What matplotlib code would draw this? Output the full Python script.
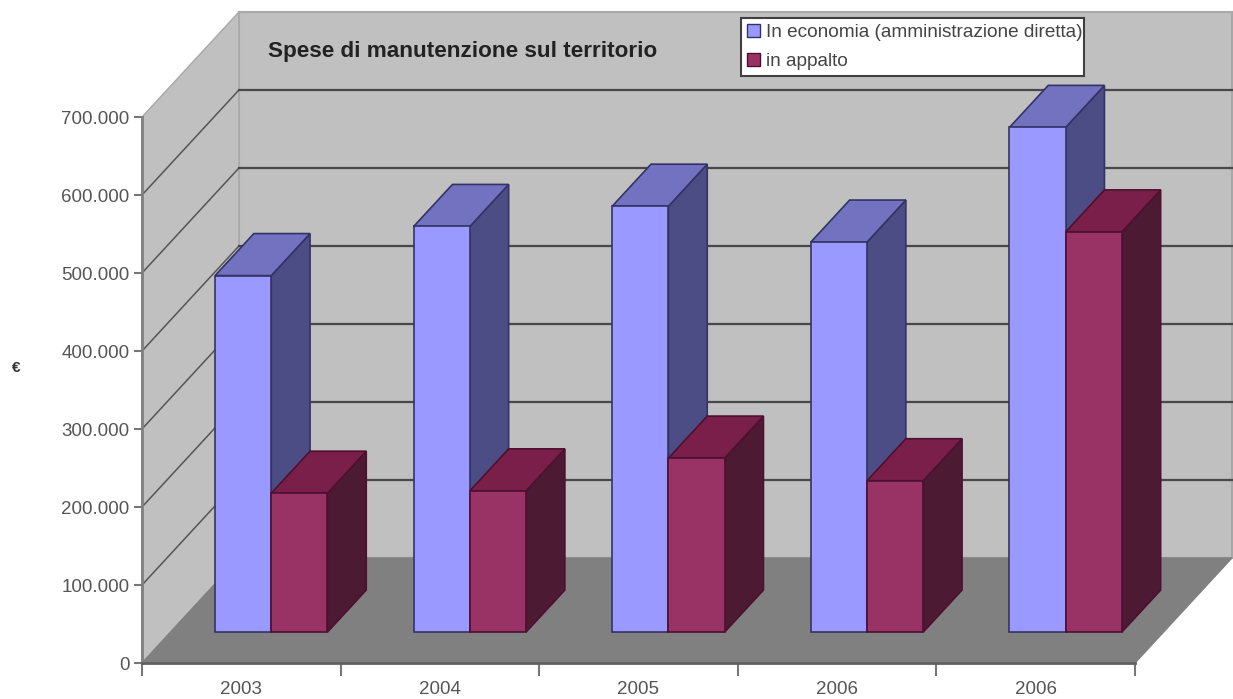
import matplotlib
matplotlib.use("Agg")
import matplotlib.pyplot as plt
from matplotlib.patches import Patch, Polygon

plt.rcParams['font.family'] = ['Liberation Sans', 'DejaVu Sans']

years = ['2003', '2004', '2005', '2006', '2006']
economia = [457000, 520000, 546000, 500000, 647000]
appalto = [178000, 181000, 223000, 194000, 513000]
y_ticks = [0, 100000, 200000, 300000, 400000, 500000, 600000, 700000]
y_labels = ['0', '100.000', '200.000', '300.000', '400.000', '500.000', '600.000', '700.000']
title = 'Spese di manutenzione sul territorio'
series_names = ['In economia (amministrazione diretta)', 'in appalto']

# oblique "3d" look: depth goes right and up, in data units
DEPTH_X = 0.488
DEPTH_Y = 134600
YMAX = 700000
NCAT = len(years)


def proj(x, y, d):
    return (x + d * DEPTH_X, y + d * DEPTH_Y)


def bar3d(ax, x, w, value, front, top, side, edge):
    d0, d1 = 0.295, 0.695  # depth of the bar front / back
    faces = [
        ([(x + w, 0, d0), (x + w, 0, d1), (x + w, value, d1), (x + w, value, d0)], side),
        ([(x, value, d0), (x + w, value, d0), (x + w, value, d1), (x, value, d1)], top),
        ([(x, 0, d0), (x + w, 0, d0), (x + w, value, d0), (x, value, d0)], front),
    ]
    for pts, color in faces:
        ax.add_patch(Polygon([proj(*p) for p in pts], closed=True, facecolor=color,
                             edgecolor=edge, linewidth=1.2, zorder=3, clip_on=False))


fig = plt.figure(figsize=(12.33, 6.99), dpi=100)
ax = fig.add_axes([142 / 1233, 36 / 699, 993 / 1233, 546 / 699])
ax.set_xlim(0, NCAT)
ax.set_ylim(0, YMAX)
ax.patch.set_visible(False)

# back wall, side wall, floor
ax.add_patch(Polygon([proj(0, 0, 1), proj(NCAT, 0, 1), proj(NCAT, YMAX, 1), proj(0, YMAX, 1)],
                     facecolor='#c0c0c0', edgecolor='#a8a8a8', linewidth=1.5, clip_on=False, zorder=1))
ax.add_patch(Polygon([(0, 0), proj(0, 0, 1), proj(0, YMAX, 1), (0, YMAX)],
                     facecolor='#c0c0c0', edgecolor='#a8a8a8', linewidth=1, clip_on=False, zorder=1))
ax.add_patch(Polygon([(0, 0), (NCAT, 0), proj(NCAT, 0, 1), proj(0, 0, 1)],
                     facecolor='#808080', edgecolor='#808080', clip_on=False, zorder=1))

for v in y_ticks[1:-1]:
    x0, y0 = proj(0, v, 0)
    x1, y1 = proj(0, v, 1)
    x2, y2 = proj(NCAT, v, 1)
    ax.plot([x0, x1], [y0, y1], color='#555555', linewidth=1.1, zorder=2, clip_on=False)
    ax.plot([x1, x2], [y1, y2], color='#484848', linewidth=1.6, zorder=2, clip_on=False)

bar_w = 0.283
for i in range(NCAT):
    left = i + 0.224
    bar3d(ax, left, bar_w, economia[i], '#9999ff', '#7272c0', '#4d4d85', '#333366')
    bar3d(ax, left + bar_w, bar_w, appalto[i], '#993366', '#7a1f4a', '#4d1a33', '#4d1030')

ax.set_yticks(y_ticks)
ax.set_yticklabels(y_labels, color='#555555', fontsize=13.5)
ax.set_xticks(range(NCAT + 1))
ax.set_xticklabels([])
ax.set_xticks([i + 0.5 for i in range(NCAT)], minor=True)
ax.set_xticklabels(years, minor=True, color='#555555', fontsize=13.5)
ax.tick_params(axis='y', length=6, width=1.5, color='#777777', pad=3)
ax.tick_params(axis='x', which='major', length=9, width=1.5, color='#777777')
ax.tick_params(axis='x', which='minor', length=0, pad=13)

for s in ['top', 'right']:
    ax.spines[s].set_visible(False)
ax.spines['left'].set_color('#808080')
ax.spines['left'].set_linewidth(2)
ax.spines['bottom'].set_color('#606060')
ax.spines['bottom'].set_linewidth(2)

ax.set_ylabel('€', rotation=0, fontsize=11, fontweight='bold', color='#333333')
ax.yaxis.set_label_coords(-126 / 993, 288 / 546)

fig.text(268 / 1233, 1 - 51 / 699, title, fontsize=16.2, fontweight='bold', color='#222222', va='center')

handles = [Patch(facecolor='#9999ff', edgecolor='#333366'),
           Patch(facecolor='#993366', edgecolor='#4d1030')]
leg = fig.legend(handles, series_names, loc='upper left', mode='expand',
                 bbox_to_anchor=(741 / 1233, 1 - 79 / 699, 343 / 1233, 61 / 699),
                 fontsize=13.7, frameon=True, fancybox=False, framealpha=1, edgecolor='#404040',
                 handlelength=0.7, handleheight=0.7, handletextpad=0.3, labelspacing=0.63,
                 borderpad=0.3, borderaxespad=0, labelcolor='#444444')
leg.get_frame().set_linewidth(1.5)

fig.savefig('out.png', dpi=100)
